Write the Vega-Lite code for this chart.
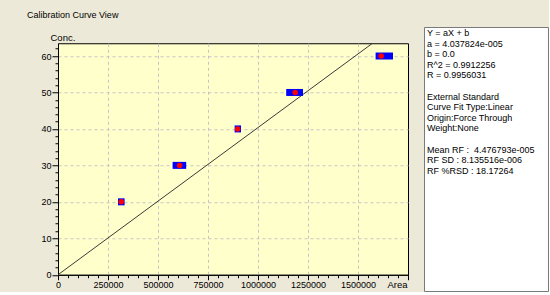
{
  "$schema": "https://vega.github.io/schema/vega-lite/v6.json",
  "autosize": {"type": "pad"},
  "padding": {"left": 27, "top": 10, "right": 0, "bottom": 0},
  "background": "#ECE9D8",
  "title": {
    "text": "Calibration Curve View",
    "anchor": "start",
    "frame": "group",
    "font": "Liberation Sans",
    "fontSize": 9,
    "fontWeight": "normal",
    "color": "#000000",
    "baseline": "middle",
    "offset": 0,
    "dx": -31,
    "dy": -3
  },
  "config": {
    "font": "Liberation Sans",
    "scale": {"continuousPadding": 0},
    "axis": {
      "labelFont": "Liberation Sans",
      "titleFont": "Liberation Sans",
      "labelFontSize": 9,
      "titleFontSize": 9.5,
      "titleFontWeight": "normal",
      "labelColor": "#000000",
      "titleColor": "#000000",
      "domainColor": "#000000",
      "tickColor": "#000000",
      "gridColor": "#C4C4C4",
      "gridDash": [3, 3],
      "labelOverlap": false,
      "labelFlush": false
    }
  },
  "hconcat": [
    {
      "width": 350,
      "height": 231.5,
      "view": {"fill": "#FFFFCC", "stroke": "#000000"},
      "layer": [
        {
          "data": {"values": [{"area": 0, "conc": 0}, {"area": 1750000, "conc": 70.66}]},
          "mark": {"type": "line", "color": "#3a3a3a", "strokeWidth": 1, "clip": true},
          "encoding": {
            "x": {
              "field": "area",
              "type": "quantitative",
              "scale": {"domain": [0, 1750000], "nice": false, "zero": false, "padding": 0},
              "axis": {
                "title": "Area",
                "titleX": 349,
                "titleY": 10,
                "titleAlign": "right",
                "titleBaseline": "middle",
                "values": [0, 50000, 100000, 150000, 200000, 250000, 300000, 350000, 400000, 450000, 500000, 550000, 600000, 650000, 700000, 750000, 800000, 850000, 900000, 950000, 1000000, 1050000, 1100000, 1150000, 1200000, 1250000, 1300000, 1350000, 1400000, 1450000, 1500000, 1550000, 1600000, 1650000, 1700000, 1750000],
                "format": "d",
                "labelExpr": "datum.value % 250000 === 0 && datum.value < 1750000 ? datum.label : ''",
                "labelPadding": 1,
                "tickSize": {"condition": {"test": "datum.value % 250000 === 0", "value": 5}, "value": 3},
                "gridOpacity": {"condition": {"test": "datum.value % 250000 === 0 && datum.value > 0 && datum.value < 1750000", "value": 1}, "value": 0}
              }
            },
            "y": {
              "field": "conc",
              "type": "quantitative",
              "scale": {"domain": [0, 63.5], "nice": false, "zero": false, "padding": 0},
              "axis": {
                "title": "Conc.",
                "titleAngle": 0,
                "titleX": -8,
                "titleY": -6,
                "titleAlign": "left",
                "titleBaseline": "middle",
                "values": [0, 2, 4, 6, 8, 10, 12, 14, 16, 18, 20, 22, 24, 26, 28, 30, 32, 34, 36, 38, 40, 42, 44, 46, 48, 50, 52, 54, 56, 58, 60, 62],
                "labelExpr": "datum.value % 10 === 0 ? datum.label : ''",
                "labelPadding": 1,
                "tickSize": {"condition": {"test": "datum.value % 10 === 0", "value": 6}, "value": 3},
                "gridOpacity": {"condition": {"test": "datum.value % 10 === 0 && datum.value > 0", "value": 1}, "value": 0}
              }
            }
          }
        },
        {
          "data": {"values": [
            {"area": 316000, "conc": 20, "areaMin": 300000, "areaMax": 333000},
            {"area": 608000, "conc": 30, "areaMin": 573000, "areaMax": 641000},
            {"area": 898000, "conc": 40, "areaMin": 883000, "areaMax": 915000},
            {"area": 1186000, "conc": 50, "areaMin": 1141000, "areaMax": 1225000},
            {"area": 1616000, "conc": 60, "areaMin": 1588000, "areaMax": 1675000}
          ]},
          "layer": [
            {
              "mark": {"type": "bar", "color": "#0000FF", "size": 7, "orient": "horizontal"},
              "encoding": {
                "x": {
                  "field": "areaMin",
                  "type": "quantitative",
                  "axis": {
                    "title": "Area",
                    "titleX": 349,
                    "titleY": 10,
                    "titleAlign": "right",
                    "titleBaseline": "middle",
                    "values": [0, 50000, 100000, 150000, 200000, 250000, 300000, 350000, 400000, 450000, 500000, 550000, 600000, 650000, 700000, 750000, 800000, 850000, 900000, 950000, 1000000, 1050000, 1100000, 1150000, 1200000, 1250000, 1300000, 1350000, 1400000, 1450000, 1500000, 1550000, 1600000, 1650000, 1700000, 1750000],
                    "format": "d",
                    "labelExpr": "datum.value % 250000 === 0 && datum.value < 1750000 ? datum.label : ''",
                    "labelPadding": 1,
                    "tickSize": {"condition": {"test": "datum.value % 250000 === 0", "value": 5}, "value": 3},
                    "gridOpacity": {"condition": {"test": "datum.value % 250000 === 0 && datum.value > 0 && datum.value < 1750000", "value": 1}, "value": 0}
                  }
                },
                "x2": {"field": "areaMax"},
                "y": {
                  "field": "conc",
                  "type": "quantitative",
                  "axis": {
                    "title": "Conc.",
                    "titleAngle": 0,
                    "titleX": -8,
                    "titleY": -6,
                    "titleAlign": "left",
                    "titleBaseline": "middle",
                    "values": [0, 2, 4, 6, 8, 10, 12, 14, 16, 18, 20, 22, 24, 26, 28, 30, 32, 34, 36, 38, 40, 42, 44, 46, 48, 50, 52, 54, 56, 58, 60, 62],
                    "labelExpr": "datum.value % 10 === 0 ? datum.label : ''",
                    "labelPadding": 1,
                    "tickSize": {"condition": {"test": "datum.value % 10 === 0", "value": 6}, "value": 3},
                    "gridOpacity": {"condition": {"test": "datum.value % 10 === 0 && datum.value > 0", "value": 1}, "value": 0}
                  }
                }
              }
            },
            {
              "mark": {"type": "circle", "color": "#FF0000", "size": 30, "opacity": 1},
              "encoding": {
                "x": {
                  "field": "area",
                  "type": "quantitative",
                  "axis": {
                    "title": "Area",
                    "titleX": 349,
                    "titleY": 10,
                    "titleAlign": "right",
                    "titleBaseline": "middle",
                    "values": [0, 50000, 100000, 150000, 200000, 250000, 300000, 350000, 400000, 450000, 500000, 550000, 600000, 650000, 700000, 750000, 800000, 850000, 900000, 950000, 1000000, 1050000, 1100000, 1150000, 1200000, 1250000, 1300000, 1350000, 1400000, 1450000, 1500000, 1550000, 1600000, 1650000, 1700000, 1750000],
                    "format": "d",
                    "labelExpr": "datum.value % 250000 === 0 && datum.value < 1750000 ? datum.label : ''",
                    "labelPadding": 1,
                    "tickSize": {"condition": {"test": "datum.value % 250000 === 0", "value": 5}, "value": 3},
                    "gridOpacity": {"condition": {"test": "datum.value % 250000 === 0 && datum.value > 0 && datum.value < 1750000", "value": 1}, "value": 0}
                  }
                },
                "y": {
                  "field": "conc",
                  "type": "quantitative",
                  "axis": {
                    "title": "Conc.",
                    "titleAngle": 0,
                    "titleX": -8,
                    "titleY": -6,
                    "titleAlign": "left",
                    "titleBaseline": "middle",
                    "values": [0, 2, 4, 6, 8, 10, 12, 14, 16, 18, 20, 22, 24, 26, 28, 30, 32, 34, 36, 38, 40, 42, 44, 46, 48, 50, 52, 54, 56, 58, 60, 62],
                    "labelExpr": "datum.value % 10 === 0 ? datum.label : ''",
                    "labelPadding": 1,
                    "tickSize": {"condition": {"test": "datum.value % 10 === 0", "value": 6}, "value": 3},
                    "gridOpacity": {"condition": {"test": "datum.value % 10 === 0 && datum.value > 0", "value": 1}, "value": 0}
                  }
                }
              }
            }
          ]
        }
      ]
    },
    {
      "width": 124,
      "height": 264,
      "view": {"fill": "#FFFFFF", "stroke": "#7A7A7A"},
      "data": {"values": [
        {"line": 0, "col": 0, "text": "Y = aX + b"},
        {"line": 1, "col": 0, "text": "a = 4.037824e-005"},
        {"line": 2, "col": 0, "text": "b = 0.0"},
        {"line": 3, "col": 0, "text": "R^2 = 0.9912256"},
        {"line": 4, "col": 0, "text": "R = 0.9956031"},
        {"line": 6, "col": 0, "text": "External Standard"},
        {"line": 7, "col": 0, "text": "Curve Fit Type:Linear"},
        {"line": 8, "col": 0, "text": "Origin:Force Through"},
        {"line": 9, "col": 0, "text": "Weight:None"},
        {"line": 11, "col": 0, "text": "Mean RF : \u00a04.476793e-005"},
        {"line": 12, "col": 0, "text": "RF SD : 8.135516e-006"},
        {"line": 13, "col": 0, "text": "RF %RSD : 18.17264"}
      ]},
      "mark": {"type": "text", "align": "left", "baseline": "middle", "dx": 3, "fontSize": 9, "font": "Liberation Sans", "color": "#000000"},
      "encoding": {
        "x": {"field": "col", "type": "quantitative", "scale": {"domain": [0, 1]}, "axis": null},
        "y": {"field": "line", "type": "quantitative", "scale": {"domain": [-0.566, 24.34], "reverse": true, "nice": false, "zero": false}, "axis": null},
        "text": {"field": "text"}
      }
    }
  ],
  "spacing": 16,
  "bounds": "flush",
  "center": true
}
